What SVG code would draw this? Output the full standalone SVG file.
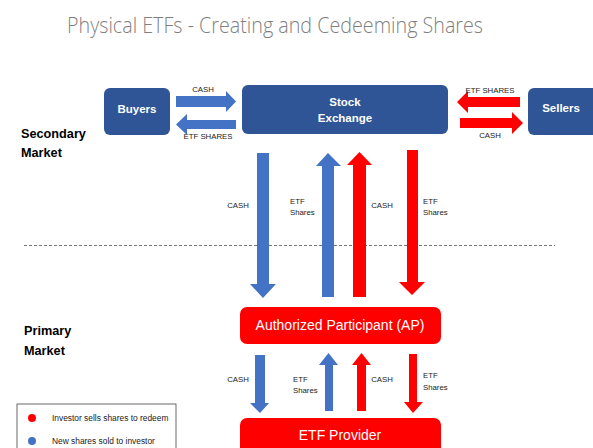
<svg xmlns="http://www.w3.org/2000/svg" width="593" height="448" viewBox="0 0 593 448">
  <style>
    .title { font-family: "Open Sans", "Liberation Sans", sans-serif; font-weight: 300; font-size: 22px; fill: #7f7f7f; }
    .box-blue { fill: #2f5597; }
    .box-red { fill: #ff0000; }
    .box-label { font-family: "Liberation Sans", Arial, sans-serif; font-weight: bold; font-size: 11.5px; fill: #ffffff; text-anchor: middle; }
    .big-label { font-family: "Liberation Sans", Arial, sans-serif; font-size: 14px; fill: #ffffff; text-anchor: middle; }
    .market { font-family: "Liberation Sans", Arial, sans-serif; font-weight: bold; font-size: 12.7px; fill: #000000; }
    .small { font-family: "Liberation Sans", Arial, sans-serif; font-size: 7.8px; fill: #222222; }
    .legend { font-family: "Liberation Sans", Arial, sans-serif; font-size: 8.4px; fill: #222222; }
    .arrow-blue { fill: #4472c4; }
    .arrow-red { fill: #ff0000; }
  </style>
  <rect width="593" height="448" fill="#ffffff"/>

  <text class="title" x="275" y="33" text-anchor="middle" textLength="416" lengthAdjust="spacingAndGlyphs">Physical ETFs - Creating and Cedeeming Shares</text>

  <!-- market labels -->
  <text class="market" x="21" y="138">Secondary</text>
  <text class="market" x="21" y="157">Market</text>
  <text class="market" x="24" y="335">Primary</text>
  <text class="market" x="24" y="355">Market</text>

  <!-- boundary between secondary and primary market -->
  <line x1="24" y1="245.5" x2="555" y2="245.5" stroke="#555555" stroke-width="0.8" stroke-dasharray="3,2"/>

  <g id="buyers">
    <rect class="box-blue" x="104" y="88" width="66" height="47" rx="6"/>
    <text class="box-label" x="137" y="113">Buyers</text>
  </g>
  <g id="stock-exchange">
    <rect class="box-blue" x="242" y="85" width="206" height="49" rx="6"/>
    <text class="box-label" x="345" y="106">Stock</text>
    <text class="box-label" x="345" y="122">Exchange</text>
  </g>
  <g id="sellers">
    <rect class="box-blue" x="528" y="88" width="72" height="47" rx="6"/>
    <text class="box-label" x="561" y="112">Sellers</text>
  </g>
  <g id="authorized-participant">
    <rect class="box-red" x="240" y="307" width="201" height="37" rx="7"/>
    <text class="big-label" x="340" y="330">Authorized Participant (AP)</text>
  </g>
  <g id="etf-provider">
    <rect class="box-red" x="240" y="418" width="201" height="40" rx="7"/>
    <text class="big-label" x="340" y="440">ETF Provider</text>
  </g>

  <g id="connectors">
    <!-- buyers / exchange -->
    <polygon class="arrow-blue" points="176,96 226,96 226,91 236,101.5 226,112 226,107 176,107"/>
    <text class="small" x="203" y="92" text-anchor="middle">CASH</text>
    <polygon class="arrow-blue" points="236,120 187,120 187,114 176,124.5 187,135 187,129 236,129"/>
    <text class="small" x="208" y="139" text-anchor="middle">ETF SHARES</text>

    <!-- sellers / exchange -->
    <polygon class="arrow-red" points="520,97 468,97 468,91 457,102 468,113 468,107 520,107"/>
    <text class="small" x="490" y="93" text-anchor="middle">ETF SHARES</text>
    <polygon class="arrow-red" points="460,118 512,118 512,112 523,123 512,134 512,128 460,128"/>
    <text class="small" x="490" y="138" text-anchor="middle">CASH</text>

    <!-- exchange / AP -->
    <polygon class="arrow-blue" points="257,153 269,153 269,284 276,284 263,298 250,284 257,284"/>
    <text class="small" x="238" y="208" text-anchor="middle">CASH</text>
    <polygon class="arrow-blue" points="322,297 334,297 334,166 341,166 328,153 316,166 322,166"/>
    <text class="small" x="290" y="204">ETF</text>
    <text class="small" x="290" y="215">Shares</text>
    <polygon class="arrow-red" points="353,297 366,297 366,165 372,165 359.5,152 347,165 353,165"/>
    <text class="small" x="382" y="208" text-anchor="middle">CASH</text>
    <polygon class="arrow-red" points="407,150 418,150 418,282 425,282 412,295 399,282 407,282"/>
    <text class="small" x="423" y="204">ETF</text>
    <text class="small" x="423" y="215">Shares</text>

    <!-- AP / ETF provider -->
    <polygon class="arrow-blue" points="255,355 265,355 265,403 269,403 260,413 250,403 255,403"/>
    <text class="small" x="238" y="382" text-anchor="middle">CASH</text>
    <polygon class="arrow-blue" points="325,411 333,411 333,365 338,365 328.5,353 319,365 325,365"/>
    <text class="small" x="293" y="382">ETF</text>
    <text class="small" x="293" y="393">Shares</text>
    <polygon class="arrow-red" points="357,411 366,411 366,365 371,365 361.5,353 352,365 357,365"/>
    <text class="small" x="382" y="382" text-anchor="middle">CASH</text>
    <polygon class="arrow-red" points="409,354 417,354 417,402 423,402 413,413 404,402 409,402"/>
    <text class="small" x="423" y="378">ETF</text>
    <text class="small" x="423" y="390">Shares</text>
  </g>

  <g id="legend">
    <rect x="17" y="404" width="159" height="50" fill="#ffffff" stroke="#444444" stroke-width="0.8"/>
    <circle cx="32" cy="418" r="4" fill="#ff0000"/>
    <text class="legend" x="52" y="420.5">Investor sells shares to redeem</text>
    <circle cx="32" cy="441" r="4" fill="#4472c4"/>
    <text class="legend" x="52" y="444">New shares sold to investor</text>
  </g>
</svg>
